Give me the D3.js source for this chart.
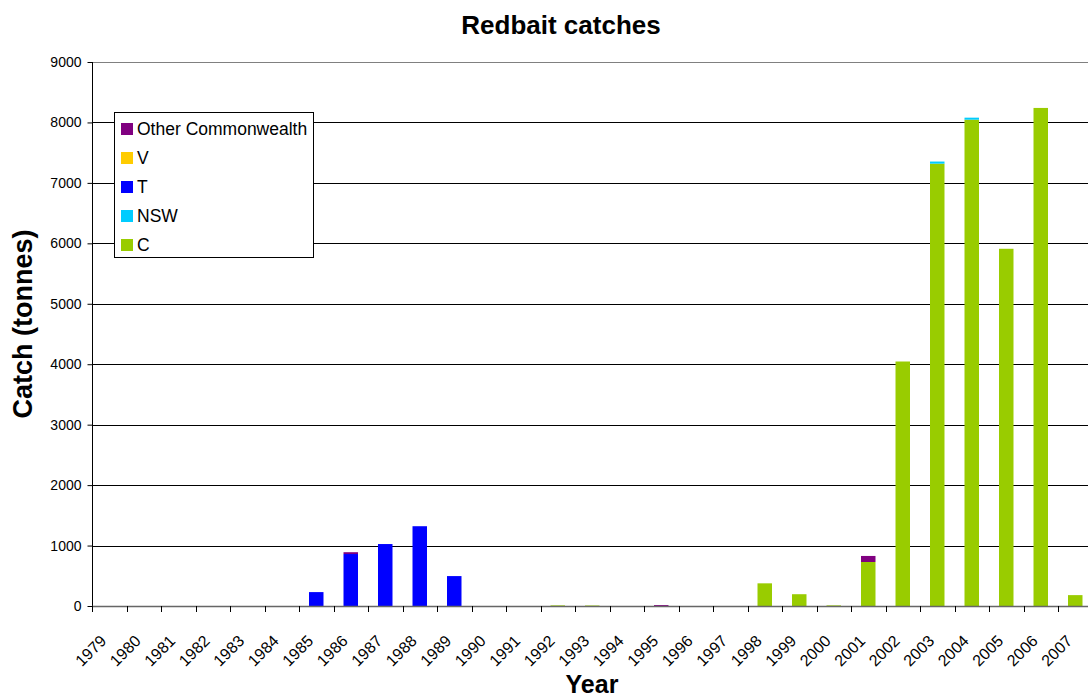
<!DOCTYPE html>
<html>
<head>
<meta charset="utf-8">
<script src="https://cdn.jsdelivr.net/npm/d3@7"></script>
<style>
  html, body { margin: 0; padding: 0; background: #fff; }
  svg { display: block; font-family: "Liberation Sans", Arial, sans-serif; }
</style>
</head>
<body>
<svg id="chart" width="1088" height="700"></svg>
<script>
const years = ["1979","1980","1981","1982","1983","1984","1985","1986","1987","1988","1989","1990","1991","1992","1993","1994","1995","1996","1997","1998","1999","2000","2001","2002","2003","2004","2005","2006","2007"];
const seriesNames = ["C","NSW","T","V","Other Commonwealth"];
const seriesColors = ["#99CC00","#00CCFF","#0000FF","#FFCC00","#800080"];
//              1979 80 81 82 83 84  85   86   87   88   89  90 91 92 93 94 95 96 97  98   99  2000 01   02    03    04    05    06    07
const valuesC     = [0, 0, 0, 0, 0, 0,   0,   0,   0,   0,   0, 0, 0, 10, 8, 0, 0, 0, 0, 375, 195, 10, 728, 4045, 7318, 8046, 5910, 8240, 180];
const valuesNSW   = [0, 0, 0, 0, 0, 0,   0,   0,   0,   0,   0, 0, 0, 0, 0, 0, 0, 0, 0,   0,   0,  0,   0,    0,   35,   33,    0,    0,   0];
const valuesT     = [0, 0, 0, 0, 0, 0, 230, 860,1025,1320, 495, 0, 0, 0, 0, 0, 0, 0, 0,   0,   0,  0,   0,    0,    0,    0,    0,    0,   0];
const valuesV     = [0, 0, 0, 0, 0, 0,   0,   0,   0,   0,   0, 0, 0, 0, 0, 0, 0, 0, 0,   0,   0,  0,   0,    0,    0,    0,    0,    0,   0];
const valuesOther = [0, 0, 0, 0, 0, 0,   0,  30,   0,   0,   0, 0, 0, 0, 0, 0,15, 0, 0,   0,   0,  0, 100,    0,    0,    0,    0,    0,   0];
const yTicks = [0,1000,2000,3000,4000,5000,6000,7000,8000,9000];

(function () {
const allValues = [valuesC, valuesNSW, valuesT, valuesV, valuesOther];
const table = years.map((yr, i) => {
  const row = { year: yr };
  seriesNames.forEach((s, k) => row[s] = allValues[k][i]);
  return row;
});

const svg = d3.select("#chart");
const pLeft = 92, pRight = 1092.5, pTop = 62, pBottom = 606;

const x = d3.scaleBand().domain(years).range([pLeft, pRight]).paddingInner(0.58).paddingOuter(0.29);
const y = d3.scaleLinear().domain([0, 9000]).range([pBottom, pTop]);
const step = x.step();

// gridlines
svg.append("g").selectAll("line").data(yTicks.filter(t => t > 0)).join("line")
  .attr("x1", pLeft).attr("x2", pRight)
  .attr("y1", d => Math.round(y(d)) + 0.5).attr("y2", d => Math.round(y(d)) + 0.5)
  .attr("stroke", d => d === 9000 ? "#808080" : "#000").attr("stroke-width", 1);

// stacked bars
const stack = d3.stack().keys(seriesNames)(table);
svg.append("g").selectAll("g").data(stack).join("g")
  .attr("fill", (d, i) => seriesColors[i])
  .selectAll("rect").data(d => d.filter(p => p[1] - p[0] > 0)).join("rect")
  .attr("x", d => x(d.data.year))
  .attr("width", x.bandwidth())
  .attr("y", d => y(d[1]))
  .attr("height", d => Math.max(1, y(d[0]) - y(d[1])));

// y axis
const yAxis = d3.axisLeft(y).tickValues(yTicks).tickSize(5).tickPadding(6).tickFormat(d3.format("d"));
const gy = svg.append("g").attr("transform", `translate(${pLeft + 0.5},0)`).call(yAxis);
gy.select(".domain").attr("stroke", "#000").attr("d", `M0,${pTop}V${pBottom}`);
gy.selectAll(".tick line").attr("stroke", "#000");
gy.selectAll(".tick text").attr("font-size", 14).attr("fill", "#000").attr("font-family", "Liberation Sans, Arial, sans-serif");

// x axis line
svg.append("line").attr("x1", pLeft).attr("x2", pRight)
  .attr("y1", pBottom + 0.5).attr("y2", pBottom + 0.5).attr("stroke", "#666").attr("stroke-width", 1.5);

// x ticks at category boundaries
svg.append("g").selectAll("line").data(d3.range(years.length + 1)).join("line")
  .attr("x1", i => Math.round(pLeft + i * step) + 0.5).attr("x2", i => Math.round(pLeft + i * step) + 0.5)
  .attr("y1", pBottom).attr("y2", pBottom + 6).attr("stroke", "#000");

// x tick labels rotated
svg.append("g").selectAll("text").data(years).join("text")
  .attr("transform", d => `translate(${x(d) + x.bandwidth() / 2 - 2},${642}) rotate(-45)`)
  .attr("text-anchor", "end")
  .attr("font-size", 16)
  .attr("fill", "#000")
  .text(d => d);

// titles
svg.append("text").attr("x", 561).attr("y", 34).attr("text-anchor", "middle")
  .attr("font-size", 26).attr("font-weight", "bold").text("Redbait catches");
svg.append("text").attr("x", 592).attr("y", 693).attr("text-anchor", "middle")
  .attr("font-size", 25).attr("font-weight", "bold").text("Year");
svg.append("text").attr("transform", `translate(32,324) rotate(-90)`).attr("text-anchor", "middle")
  .attr("font-size", 27).attr("font-weight", "bold").text("Catch (tonnes)");

// legend
const legend = svg.append("g");
legend.append("rect").attr("x", 114.5).attr("y", 112.5).attr("width", 199).attr("height", 145)
  .attr("fill", "#fff").attr("stroke", "#000").attr("stroke-width", 1);
const legendOrder = [4, 3, 2, 1, 0];
const li = legend.selectAll("g.item").data(legendOrder).join("g").attr("class", "item")
  .attr("transform", (d, i) => `translate(0,${129 + i * 29})`);
li.append("rect").attr("x", 121).attr("y", -6).attr("width", 12).attr("height", 12)
  .attr("fill", d => seriesColors[d]);
li.append("text").attr("x", 137).attr("y", 6).attr("font-size", 17.5).attr("fill", "#000")
  .text(d => seriesNames[d]);
})();
</script>
</body>
</html>
